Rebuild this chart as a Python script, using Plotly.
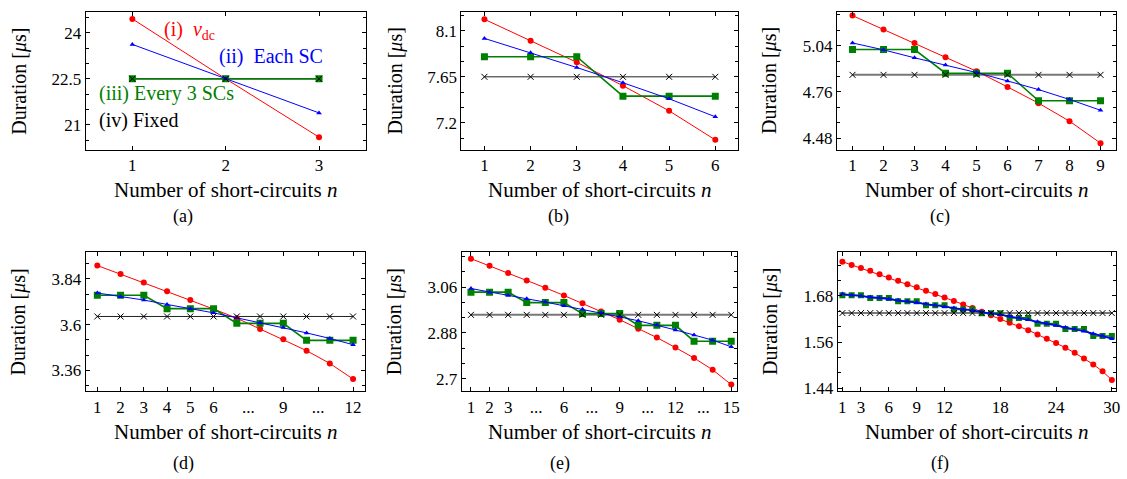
import plotly.graph_objects as go

# ---- data: pulse duration vs. number of short-circuits ----
n_a = [1, 2, 3]
vdc_a = [24.45, 22.5, 20.6]
each_a = [23.62, 22.5, 21.39]
every3_a = [22.5, 22.5, 22.5]
fixed_a = [22.5, 22.5, 22.5]

n_b = [1, 2, 3, 4, 5, 6]
vdc_b = [8.213, 8.004, 7.792, 7.563, 7.317, 7.033]
each_b = [8.026, 7.885, 7.741, 7.592, 7.435, 7.259]
every3_b = [7.847, 7.847, 7.847, 7.461, 7.461, 7.461]
fixed_b = [7.65, 7.65, 7.65, 7.65, 7.65, 7.65]

n_c = [1, 2, 3, 4, 5, 6, 7, 8, 9]
vdc_c = [5.221, 5.137, 5.056, 4.970, 4.885, 4.790, 4.692, 4.583, 4.450]
each_c = [5.056, 5.014, 4.966, 4.923, 4.877, 4.826, 4.774, 4.714, 4.649]
every3_c = [5.016, 5.016, 5.016, 4.873, 4.873, 4.873, 4.706, 4.706, 4.706]
fixed_c = [4.863, 4.863, 4.863, 4.863, 4.863, 4.863, 4.863, 4.863, 4.863]

n_d = [1, 2, 3, 4, 5, 6, 7, 8, 9, 10, 11, 12]
vdc_d = [3.910, 3.865, 3.821, 3.775, 3.729, 3.682, 3.634, 3.577, 3.524, 3.464, 3.397, 3.315]
each_d = [3.766, 3.747, 3.729, 3.706, 3.684, 3.662, 3.636, 3.610, 3.585, 3.557, 3.528, 3.495]
every3_d = [3.754, 3.754, 3.754, 3.684, 3.684, 3.684, 3.607, 3.607, 3.607, 3.518, 3.518, 3.518]
fixed_d = [3.643, 3.643, 3.643, 3.643, 3.643, 3.643, 3.643, 3.643, 3.643, 3.643, 3.643, 3.643]

n_e = [1, 2, 3, 4, 5, 6, 7, 8, 9, 10, 11, 12, 13, 14, 15]
vdc_e = [3.171, 3.143, 3.115, 3.086, 3.057, 3.027, 2.996, 2.964, 2.932, 2.897,
         2.862, 2.823, 2.782, 2.736, 2.678]
each_e = [3.054, 3.040, 3.027, 3.014, 3.001, 2.987, 2.973, 2.959, 2.943, 2.928,
          2.911, 2.892, 2.872, 2.852, 2.826]
every3_e = [3.040, 3.040, 3.040, 2.999, 2.999, 2.999, 2.956, 2.956, 2.956,
            2.910, 2.910, 2.910, 2.848, 2.848, 2.848]
fixed_e = [2.951, 2.951, 2.951, 2.951, 2.951, 2.951, 2.951, 2.951, 2.951, 2.951,
           2.951, 2.951, 2.951, 2.951, 2.951]

n_f = list(range(1, 31))
vdc_f = [1.7692, 1.7607, 1.7530, 1.7453, 1.7365, 1.7281, 1.7196, 1.7108, 1.7024, 1.6939,
         1.6851, 1.6759, 1.6672, 1.6579, 1.6484, 1.6389, 1.6296, 1.6201, 1.6106, 1.6014,
         1.5911, 1.5798, 1.5687, 1.5577, 1.5456, 1.5320, 1.5173, 1.5019, 1.4839, 1.4616]
each_f = [1.685, 1.682, 1.680, 1.677, 1.675, 1.672, 1.669, 1.666, 1.663, 1.659,
          1.656, 1.652, 1.649, 1.645, 1.642, 1.638, 1.635, 1.631, 1.627, 1.623,
          1.618, 1.613, 1.608, 1.603, 1.598, 1.594, 1.588, 1.582, 1.576, 1.569]
every3_f = [1.682, 1.682, 1.682, 1.675, 1.675, 1.675, 1.666, 1.666, 1.666, 1.656,
            1.656, 1.656, 1.645, 1.645, 1.645, 1.635, 1.635, 1.635, 1.623, 1.623,
            1.623, 1.608, 1.608, 1.608, 1.594, 1.594, 1.594, 1.576, 1.576, 1.576]
fixed_f = [1.6355, 1.6355, 1.6355, 1.6355, 1.6355, 1.6355, 1.6355, 1.6355, 1.6355, 1.6355,
           1.6355, 1.6355, 1.6355, 1.6355, 1.6355, 1.6355, 1.6355, 1.6355, 1.6355, 1.6355,
           1.6355, 1.6355, 1.6355, 1.6355, 1.6355, 1.6355, 1.6355, 1.6355, 1.6355, 1.6355]

# tick labels
xt_a = ([1, 2, 3], ["1", "2", "3"])
xt_b = ([1, 2, 3, 4, 5, 6], ["1", "2", "3", "4", "5", "6"])
xt_c = ([1, 2, 3, 4, 5, 6, 7, 8, 9], ["1", "2", "3", "4", "5", "6", "7", "8", "9"])
xt_d = ([1, 2, 3, 4, 5, 6, 7.5, 9, 10.5, 12],
        ["1", "2", "3", "4", "5", "6", "...", "9", "...", "12"])
xt_e = ([1, 2, 3, 4.5, 6, 7.5, 9, 10.5, 12, 13.5, 15],
        ["1", "2", "3", "...", "6", "...", "9", "...", "12", "...", "15"])
xt_f = ([1, 3, 6, 9, 12, 18, 24, 30], ["1", "3", "6", "9", "12", "18", "24", "30"])

yt_a = [21, 22.5, 24]
yt_b = [7.2, 7.65, 8.1]
yt_c = [4.48, 4.76, 5.04]
yt_d = [3.36, 3.6, 3.84]
yt_e = [2.7, 2.88, 3.06]
yt_f = [1.44, 1.56, 1.68]

# ---- layout geometry (pixels) ----
W, H = 1127, 479
FONT = "Liberation Serif"
RED, BLUE, GREEN = "#ff0000", "#0000ff", "#008000"

panels = [
    dict(tag="(a)", n=n_a, vdc=vdc_a, each=each_a, ev3=every3_a, fix=fixed_a,
         xt=xt_a, yt=yt_a, ymin=0.5, xr=[0.5, 3.5], yr=[20.19, 24.68],
         box=(86, 367, 12, 152), ytx=20, tagx=184, fixw=1.2, fixc="#222222"),
    dict(tag="(b)", n=n_b, vdc=vdc_b, each=each_b, ev3=every3_b, fix=fixed_b,
         xt=xt_b, yt=yt_b, ymin=0.15, xr=[0.5, 6.5], yr=[6.936, 8.286],
         box=(463, 741, 12, 152), ytx=397, tagx=560, fixw=1.0, fixc="#222222"),
    dict(tag="(c)", n=n_c, vdc=vdc_c, each=each_c, ev3=every3_c, fix=fixed_c,
         xt=xt_c, yt=yt_c, ymin=0.28 / 3, xr=[0.5, 9.5], yr=[4.41, 5.244],
         box=(840, 1120, 12, 152), ytx=773, tagx=943, fixw=2.0, fixc="#777777"),
    dict(tag="(d)", n=n_d, vdc=vdc_d, each=each_d, ev3=every3_d, fix=fixed_d,
         xt=xt_d, yt=yt_d, ymin=0.08, xr=[0.5, 12.5], yr=[3.25, 3.982],
         box=(86, 366, 255.5, 397.3), ytx=19, tagx=184, fixw=1.0, fixc="#222222"),
    dict(tag="(e)", n=n_e, vdc=vdc_e, each=each_e, ev3=every3_e, fix=fixed_e,
         xt=xt_e, yt=yt_e, ymin=0.06, xr=[0.5, 15.33], yr=[2.651, 3.198],
         box=(463.3, 740, 255.5, 397.3), ytx=396, tagx=562, fixw=2.0, fixc="#777777"),
    dict(tag="(f)", n=n_f, vdc=vdc_f, each=each_f, ev3=every3_f, fix=fixed_f,
         xt=xt_f, yt=yt_f, ymin=0.04, xr=[0.5, 30.45], yr=[1.4315, 1.795],
         box=(840.7, 1120, 255.5, 397.3), ytx=773, tagx=943, fixw=2.0, fixc="#777777"),
]

fig = go.Figure()
annotations = []

for i, p in enumerate(panels):
    k = "" if i == 0 else str(i + 1)
    xa, ya = "x" + k, "y" + k
    x0, x1, y0, y1 = p["box"]
    top_row = y0 < 100
    small = len(p["n"]) > 20

    # fixed duration line (drawn underneath)
    fig.add_trace(go.Scatter(x=p["n"], y=p["fix"], mode="lines", xaxis=xa, yaxis=ya,
                             line=dict(color=p["fixc"], width=p["fixw"]), showlegend=False))
    fig.add_trace(go.Scatter(x=p["n"], y=p["vdc"], mode="lines+markers", xaxis=xa, yaxis=ya,
                             line=dict(color=RED, width=1),
                             marker=dict(symbol="circle", size=6, color=RED), showlegend=False))
    fig.add_trace(go.Scatter(x=p["n"], y=p["ev3"], mode="lines+markers", xaxis=xa, yaxis=ya,
                             line=dict(color=GREEN, width=1.6),
                             marker=dict(symbol="square", size=6 if small else 7, color=GREEN),
                             showlegend=False))
    fig.add_trace(go.Scatter(x=p["n"], y=p["each"], mode="lines+markers", xaxis=xa, yaxis=ya,
                             line=dict(color=BLUE, width=1.6 if small else 1),
                             marker=dict(symbol="triangle-up", size=5, color=BLUE), showlegend=False))
    fig.add_trace(go.Scatter(x=p["n"], y=p["fix"], mode="markers", xaxis=xa, yaxis=ya,
                             marker=dict(symbol="x-thin", size=6, color="black",
                                         line=dict(width=1, color="black")),
                             showlegend=False))

    axis_common = dict(showline=True, linecolor="black", linewidth=1, mirror="ticks",
                       ticks="inside", ticklen=4, tickcolor="black", showgrid=False,
                       zeroline=False, tickfont=dict(family=FONT, size=17, color="black"))
    fig.layout["xaxis" + k] = dict(
        axis_common, domain=[x0 / W, x1 / W], anchor=ya, range=p["xr"],
        tickmode="array", tickvals=p["xt"][0], ticktext=p["xt"][1])
    fig.layout["yaxis" + k] = dict(
        axis_common, domain=[1 - y1 / H, 1 - y0 / H], anchor=xa, range=p["yr"],
        tickmode="array", tickvals=p["yt"],
        minor=dict(ticks="inside", ticklen=3, tickcolor="black",
                   tick0=p["yt"][0], dtick=p["ymin"], showgrid=False))

    yc = 1 - (y0 + y1) / 2 / H
    annotations.append(dict(text="Duration [<i>μ</i>s]", xref="paper", yref="paper",
                            x=p["ytx"] / W, y=yc, textangle=-90, showarrow=False,
                            xanchor="center", yanchor="middle",
                            font=dict(family=FONT, size=20, color="black")))
    annotations.append(dict(text="Number of short-circuits <i>n</i>", xref="paper", yref="paper",
                            x=(x0 + x1) / 2 / W, y=1 - (193 if top_row else 438) / H,
                            showarrow=False, xanchor="center", yanchor="middle",
                            font=dict(family=FONT, size=21, color="black")))
    annotations.append(dict(text=p["tag"], xref="paper", yref="paper",
                            x=p["tagx"] / W, y=1 - (220 if top_row else 470) / H,
                            showarrow=False, xanchor="center", yanchor="middle",
                            font=dict(family=FONT, size=18, color="black")))

# series labels inside panel (a)
for txt, col, px, py in [
    ("(i)  <i>v</i><sub>dc</sub>", RED, 163, 31),
    ("(ii)  Each SC", BLUE, 218, 57),
    ("(iii) Every 3 SCs", GREEN, 97, 95),
    ("(iv) Fixed", "black", 97, 122),
]:
    annotations.append(dict(text=txt, xref="paper", yref="paper", x=px / W, y=1 - py / H,
                            showarrow=False, xanchor="left", yanchor="middle",
                            font=dict(family=FONT, size=20, color=col)))

fig.update_layout(width=W, height=H, margin=dict(l=0, r=0, t=0, b=0),
                  paper_bgcolor="white", plot_bgcolor="white",
                  font=dict(family=FONT, color="black"),
                  annotations=annotations, showlegend=False)

fig.write_html("out.html")
